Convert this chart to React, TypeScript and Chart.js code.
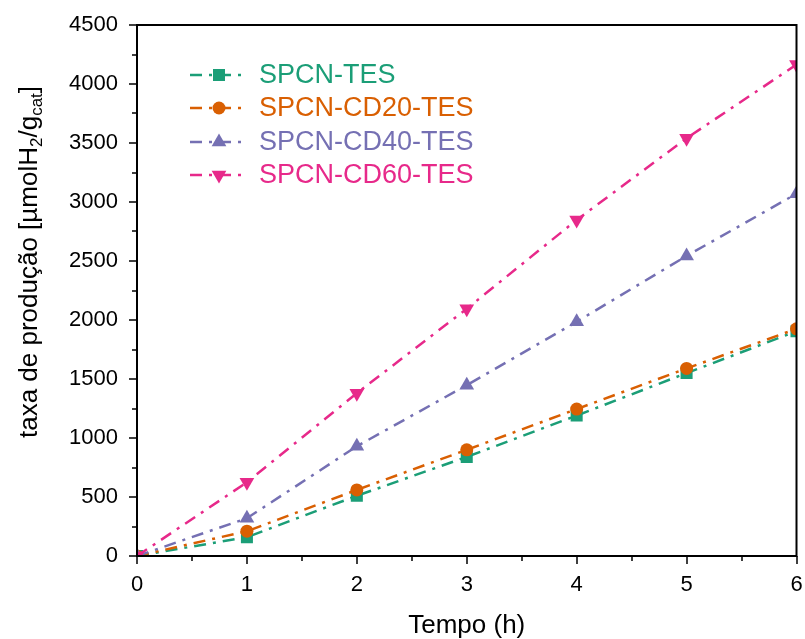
import React, { useEffect, useRef } from 'react';
import { Chart, registerables } from 'chart.js';

Chart.register(...registerables);

const times = [0, 1, 2, 3, 4, 5, 6];
const seriesNames = ['SPCN-TES', 'SPCN-CD20-TES', 'SPCN-CD40-TES', 'SPCN-CD60-TES'];
const tesValues = [0, 160, 510, 840, 1190, 1550, 1905];
const cd20Values = [0, 210, 560, 900, 1245, 1590, 1925];
const cd40Values = [0, 320, 930, 1448, 1985, 2543, 3070];
const cd60Values = [0, 625, 1380, 2095, 2848, 3540, 4165];
const xMajorTicks = [0, 1, 2, 3, 4, 5, 6];
const xMinorTicks = [0.5, 1.5, 2.5, 3.5, 4.5, 5.5];
const yMajorTicks = [0, 500, 1000, 1500, 2000, 2500, 3000, 3500, 4000, 4500];
const yMinorTicks = [250, 750, 1250, 1750, 2250, 2750, 3250, 3750, 4250];
const xTitle = 'Tempo (h)';
const yTitleParts = [
  { t: 'taxa de produção [µmolH', sub: false },
  { t: '2', sub: true },
  { t: '/g', sub: false },
  { t: 'cat', sub: true },
  { t: ']', sub: false },
];

const allValues = [tesValues, cd20Values, cd40Values, cd60Values];
const colors = ['#1b9e77', '#d95f02', '#7570b3', '#e7298a'];
const pointStyles = ['rect', 'circle', 'triangle', 'triangle'];
const pointRotations = [0, 0, 0, 180];
const pointRadii = [8.5, 6.5, 8.5, 8.5];
const FONT = "'Liberation Sans', Arial, Helvetica, sans-serif";
const DASH = [12, 7, 3, 7];

function drawMarker(ctx: CanvasRenderingContext2D, style: string, rot: number, r: number, x: number, y: number) {
  ctx.beginPath();
  if (style === 'rect') {
    const s = Math.SQRT1_2 * r;
    ctx.rect(x - s, y - s, 2 * s, 2 * s);
  } else if (style === 'circle') {
    ctx.arc(x, y, r, 0, Math.PI * 2);
  } else {
    let rad = (rot * Math.PI) / 180;
    for (let i = 0; i < 3; i++) {
      const px = x + Math.sin(rad) * r;
      const py = y - Math.cos(rad) * r;
      if (i === 0) ctx.moveTo(px, py);
      else ctx.lineTo(px, py);
      rad += (2 * Math.PI) / 3;
    }
    ctx.closePath();
  }
  ctx.fill();
}

const decorPlugin = {
  id: 'decor',
  afterDraw(chart: any) {
    const ctx: CanvasRenderingContext2D = chart.ctx;
    const { left, right, top, bottom } = chart.chartArea;
    const xs = chart.scales.x;
    const ys = chart.scales.y;
    ctx.save();
    ctx.strokeStyle = '#000';
    ctx.lineWidth = 1.5;
    ctx.beginPath();
    xMajorTicks.forEach((v) => {
      const px = Math.round(xs.getPixelForValue(v));
      ctx.moveTo(px, bottom);
      ctx.lineTo(px, bottom + 8);
    });
    xMinorTicks.forEach((v) => {
      const px = Math.round(xs.getPixelForValue(v));
      ctx.moveTo(px, bottom);
      ctx.lineTo(px, bottom + 5);
    });
    yMajorTicks.forEach((v) => {
      const py = Math.round(ys.getPixelForValue(v));
      ctx.moveTo(left, py);
      ctx.lineTo(left - 8, py);
    });
    yMinorTicks.forEach((v) => {
      const py = Math.round(ys.getPixelForValue(v));
      ctx.moveTo(left, py);
      ctx.lineTo(left - 5, py);
    });
    ctx.stroke();
    ctx.lineWidth = 2;
    ctx.strokeRect(left, top, right - left, bottom - top);

    ctx.fillStyle = '#000';
    ctx.font = `26px ${FONT}`;
    ctx.textAlign = 'center';
    ctx.textBaseline = 'alphabetic';
    ctx.fillText(xTitle, (left + right) / 2, 633);

    const mainSize = 26;
    const subSize = 17;
    ctx.save();
    ctx.translate(37, 262);
    ctx.rotate(-Math.PI / 2);
    ctx.textAlign = 'left';
    let total = 0;
    const widths = yTitleParts.map((p) => {
      ctx.font = `${p.sub ? subSize : mainSize}px ${FONT}`;
      const w = ctx.measureText(p.t).width;
      total += w;
      return w;
    });
    let cx = -total / 2;
    yTitleParts.forEach((p, i) => {
      ctx.font = `${p.sub ? subSize : mainSize}px ${FONT}`;
      ctx.fillText(p.t, cx, p.sub ? 5 : 0);
      cx += widths[i];
    });
    ctx.restore();

    const rowY = [75, 108, 142, 175];
    seriesNames.forEach((name, i) => {
      const y = rowY[i];
      ctx.strokeStyle = colors[i];
      ctx.fillStyle = colors[i];
      ctx.lineWidth = 2.5;
      ctx.setLineDash(DASH);
      ctx.beginPath();
      ctx.moveTo(190, y);
      ctx.lineTo(246, y);
      ctx.stroke();
      ctx.setLineDash([]);
      drawMarker(ctx, pointStyles[i], pointRotations[i], pointRadii[i], 219, y);
      ctx.font = `27px ${FONT}`;
      ctx.textAlign = 'left';
      ctx.textBaseline = 'middle';
      ctx.fillText(name, 259, y + 1);
    });
    ctx.restore();
  },
};

export default function App() {
  const canvasRef = useRef<HTMLCanvasElement | null>(null);

  useEffect(() => {
    if (!canvasRef.current) return;
    const datasets = allValues.map((vals, i) => ({
      label: seriesNames[i],
      data: times.map((t, j) => ({ x: t, y: vals[j] })),
      borderColor: colors[i],
      backgroundColor: colors[i],
      borderWidth: 2.5,
      borderDash: DASH,
      pointStyle: pointStyles[i],
      pointRotation: pointRotations[i],
      pointRadius: pointRadii[i],
      pointBorderWidth: 0,
      pointBackgroundColor: colors[i],
      pointBorderColor: colors[i],
      tension: 0,
      clip: 0,
      order: 4 - i,
    }));
    const chart = new Chart(canvasRef.current, {
      type: 'line',
      data: { datasets },
      plugins: [decorPlugin],
      options: {
        responsive: false,
        animation: false,
        layout: { padding: { left: 0, top: 25, right: 8, bottom: 0 } },
        plugins: { legend: { display: false }, tooltip: { enabled: false } },
        scales: {
          x: {
            type: 'linear',
            min: 0,
            max: 6,
            afterFit: (s: any) => {
              s.height = 83;
              s.paddingLeft = 0;
              s.paddingRight = 0;
            },
            grid: { display: false, drawTicks: false },
            border: { display: false },
            ticks: {
              stepSize: 1,
              padding: 16,
              color: '#000',
              font: { family: FONT, size: 22 },
              maxRotation: 0,
              callback: (v: any) => String(v),
            },
          },
          y: {
            type: 'linear',
            min: 0,
            max: 4500,
            afterFit: (s: any) => {
              s.width = 137;
              s.paddingTop = 0;
              s.paddingBottom = 0;
            },
            grid: { display: false, drawTicks: false },
            border: { display: false },
            ticks: {
              stepSize: 500,
              padding: 19,
              color: '#000',
              font: { family: FONT, size: 22 },
              callback: (v: any) => String(v),
            },
          },
        },
      },
    });
    return () => chart.destroy();
  }, []);

  return (
    <div style={{ position: 'absolute', left: 0, top: 0, width: 805, height: 639, background: '#fff' }}>
      <canvas ref={canvasRef} width={805} height={639} />
    </div>
  );
}
